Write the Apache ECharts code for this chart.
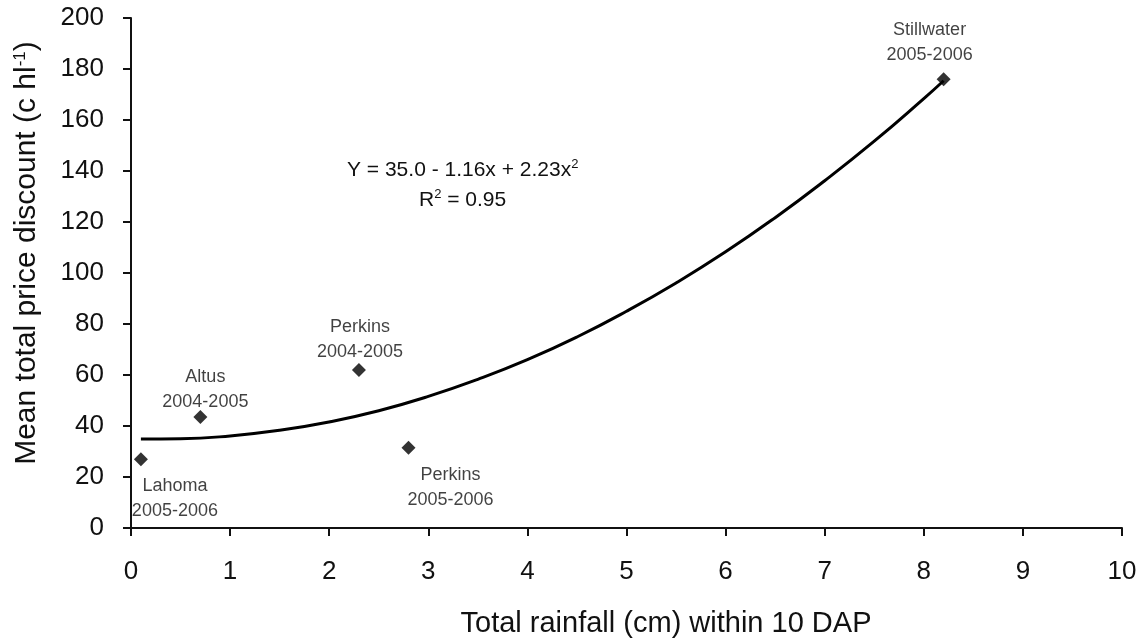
<!DOCTYPE html>
<html>
<head>
<meta charset="utf-8">
<script src="https://cdn.jsdelivr.net/npm/echarts@6/dist/echarts.min.js"></script>
<style>
  html, body { margin: 0; padding: 0; background: #fff; }
  #chart { width: 1148px; height: 644px; }
</style>
</head>
<body>
<div id="chart"></div>
<script>
// Site-seasons: rainfall within 10 DAP (cm) and mean total price discount (c hl-1)
const siteNames = ['Lahoma\n2005-2006', 'Altus\n2004-2005', 'Perkins\n2004-2005', 'Perkins\n2005-2006', 'Stillwater\n2005-2006'];
const rainfall = [0.1, 0.7, 2.3, 2.8, 8.2];
const discount = [27, 43.5, 62, 31.5, 176];

// Quadratic fit curve, sampled along x
const fitX = [0.1, 0.5, 1, 1.5, 2, 2.5, 3, 3.5, 4, 4.5, 5, 5.5, 6, 6.5, 7, 7.5, 8, 8.2];
const fitY = [34.9, 35.0, 36.1, 38.3, 41.6, 46.0, 51.6, 58.3, 66.0, 74.9, 85.0, 96.1, 108.3, 121.7, 136.2, 151.7, 168.4, 175.4];

const xTicks = { min: 0, max: 10, step: 1 };
const yTicks = { min: 0, max: 200, step: 20 };

// label offsets (px) from each marker
const labelOffsets = [[34, 39], [5, -28], [1, -30], [42, 40], [-14, -37]];

const FONT = '"Liberation Sans", Arial, sans-serif';
const INK = '#111';

const chart = echarts.init(document.getElementById('chart'), null, { renderer: 'canvas' });

const points = rainfall.map((x, i) => ({
  value: [x, discount[i]],
  name: siteNames[i],
  label: { offset: labelOffsets[i] }
}));

chart.setOption({
  backgroundColor: '#ffffff',
  animation: false,
  grid: { left: 131, top: 18, right: 26, bottom: 116, containLabel: false },
  xAxis: {
    type: 'value',
    min: xTicks.min, max: xTicks.max, interval: xTicks.step,
    splitLine: { show: false },
    axisLine: { show: true, onZero: false, lineStyle: { color: INK, width: 2 } },
    axisTick: { show: true, inside: false, length: 8, lineStyle: { color: INK, width: 2 } },
    axisLabel: { margin: 31, fontFamily: FONT, fontSize: 26, color: INK }
  },
  yAxis: {
    type: 'value',
    min: yTicks.min, max: yTicks.max, interval: yTicks.step,
    splitLine: { show: false },
    axisLine: { show: true, onZero: false, lineStyle: { color: INK, width: 2 } },
    axisTick: { show: true, inside: false, length: 8, lineStyle: { color: INK, width: 2 } },
    axisLabel: { margin: 27, fontFamily: FONT, fontSize: 26, color: INK }
  },
  series: [
    {
      type: 'line',
      data: fitX.map((x, i) => [x, fitY[i]]),
      smooth: true,
      showSymbol: false,
      lineStyle: { color: '#000', width: 3 },
      z: 2
    },
    {
      type: 'scatter',
      data: points,
      symbol: 'diamond',
      symbolSize: [14, 14],
      itemStyle: { color: '#000' },
      label: {
        show: true,
        position: 'inside',
        formatter: p => p.name,
        fontFamily: FONT,
        fontSize: 18,
        lineHeight: 25,
        color: INK,
        align: 'center',
        verticalAlign: 'middle'
      },
      z: 3
    }
  ],
  graphic: [
    {
      type: 'text', x: 347, y: 170,
      style: {
        text: '{b|Y = 35.0 - 1.16x + 2.23x}{s|2}',
        verticalAlign: 'middle',
        rich: {
          b: { fontFamily: FONT, fontSize: 21, fill: INK },
          s: { fontFamily: FONT, fontSize: 13, fill: INK, padding: [0, 0, 12, 0] }
        }
      }
    },
    {
      type: 'text', x: 419, y: 200,
      style: {
        text: '{b|R}{s|2}{b| = 0.95}',
        verticalAlign: 'middle',
        rich: {
          b: { fontFamily: FONT, fontSize: 21, fill: INK },
          s: { fontFamily: FONT, fontSize: 13, fill: INK, padding: [0, 0, 12, 0] }
        }
      }
    },
    {
      type: 'text', x: 666, y: 624,
      style: {
        text: 'Total rainfall (cm) within 10 DAP',
        fontFamily: FONT, fontSize: 29, fill: INK,
        align: 'center', verticalAlign: 'middle'
      }
    },
    {
      type: 'text', x: 27, y: 253, rotation: Math.PI / 2,
      style: {
        text: '{b|Mean total price discount (c hl}{s|-1}{b|)}',
        align: 'center', verticalAlign: 'middle',
        rich: {
          b: { fontFamily: FONT, fontSize: 30, fill: INK },
          s: { fontFamily: FONT, fontSize: 17, fill: INK, padding: [0, 0, 14, 0] }
        }
      }
    }
  ]
});
</script>
</body>
</html>
